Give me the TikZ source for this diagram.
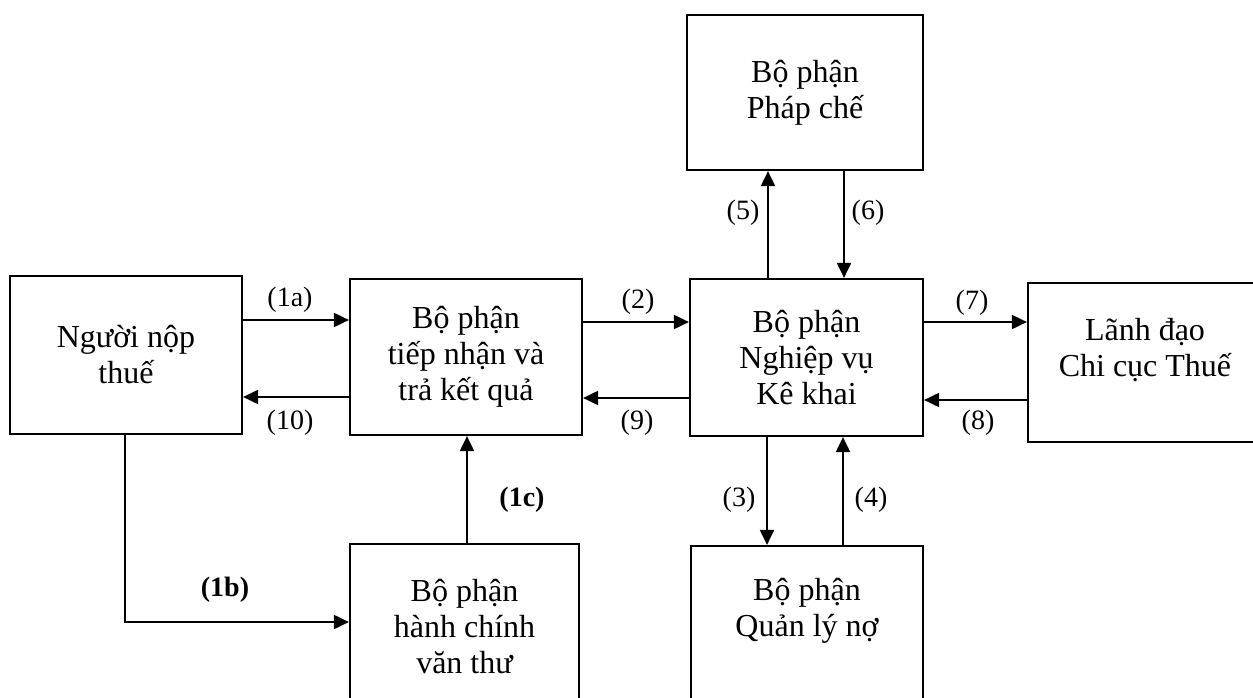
\documentclass[tikz,border=0pt]{standalone}
\usepackage{fontspec}
\setmainfont{Liberation Serif}
\usetikzlibrary{arrows.meta}
\begin{document}
\begin{tikzpicture}[x=1pt,y=-1pt,
  box/.style={draw,line width=2.2pt,inner sep=0pt,align=center,font=\fontsize{32}{36}\selectfont},
  txt/.style={inner sep=0pt,align=center,font=\fontsize{32}{36}\selectfont},
  lbl/.style={inner sep=0pt,font=\fontsize{28}{30}\selectfont},
  arr/.style={line width=2pt,-{Triangle[length=15pt,width=14pt]}}]
\useasboundingbox (0,0) rectangle (1253,698);
\clip (0,0) rectangle (1253,698);
% boxes
\node[box,minimum width=232pt,minimum height=158pt] (nnt) at (126,355) {Người nộp\\thuế};
\node[box,minimum width=232pt,minimum height=156pt] (tn) at (466,357) {Bộ phận\\tiếp nhận và\\trả kết quả};
\node[box,minimum width=233pt,minimum height=157pt] (nv) at (806.5,357.5) {Bộ phận\\Nghiệp vụ\\Kê khai};
\node[box,minimum width=236pt,minimum height=155pt] (pc) at (805,92.5) {Bộ phận\\Pháp chế};
\node[box,minimum width=234pt,minimum height=159pt] (ld) at (1145,362.5) {};
\node[txt] (ldt) at (1145,350) {Lãnh đạo\\Chi cục Thuế};
\node[box,minimum width=229pt,minimum height=200pt] (hc) at (464.5,644) {};
\node[txt] (hct) at (464.5,627) {Bộ phận\\hành chính\\văn thư};
\node[box,minimum width=232pt,minimum height=200pt] (ql) at (807,646) {};
\node[txt] (qlt) at (807,611) {Bộ phận\\Quản lý nợ};
% levels
\coordinate (y1a) at (0,320);
\coordinate (y10) at (0,397);
\coordinate (y2) at (0,322);
\coordinate (y9) at (0,398);
\coordinate (y7) at (0,322);
\coordinate (y8) at (0,400);
\coordinate (x5) at (768,0);
\coordinate (x6) at (844,0);
\coordinate (x3) at (767,0);
\coordinate (x4) at (843,0);
\coordinate (x1c) at (467,0);
\coordinate (x1b) at (125,0);
\coordinate (y1b) at (0,622);
\coordinate (c1b) at (x1b |- y1b);
% connectors
\draw[arr] (nnt.east |- y1a) -- (tn.west |- y1a);
\draw[arr] (tn.west |- y10) -- (nnt.east |- y10);
\draw[arr] (tn.east |- y2) -- (nv.west |- y2);
\draw[arr] (nv.west |- y9) -- (tn.east |- y9);
\draw[arr] (nv.east |- y7) -- (ld.west |- y7);
\draw[arr] (ld.west |- y8) -- (nv.east |- y8);
\draw[arr] (nv.north -| x5) -- (pc.south -| x5);
\draw[arr] (pc.south -| x6) -- (nv.north -| x6);
\draw[arr] (nv.south -| x3) -- (ql.north -| x3);
\draw[arr] (ql.north -| x4) -- (nv.south -| x4);
\draw[arr] (hc.north -| x1c) -- (tn.south -| x1c);
\draw[arr] (nnt.south -| x1b) -- (c1b) -- (hc.west |- y1b);
% labels
\node[lbl] (l1a) at (290,300) {(1a)};
\node[lbl] (l10) at (290,423) {(10)};
\node[lbl] (l2) at (638,302) {(2)};
\node[lbl] (l9) at (637,423) {(9)};
\node[lbl] (l7) at (972,303) {(7)};
\node[lbl] (l8) at (978,423) {(8)};
\node[lbl] (l5) at (743,213) {(5)};
\node[lbl] (l6) at (868,213) {(6)};
\node[lbl] (l3) at (739,500) {(3)};
\node[lbl] (l4) at (871,500) {(4)};
\node[lbl] (l1b) at (225,590) {\textbf{(1b)}};
\node[lbl] (l1c) at (522,500) {\textbf{(1c)}};
\end{tikzpicture}
\end{document}
